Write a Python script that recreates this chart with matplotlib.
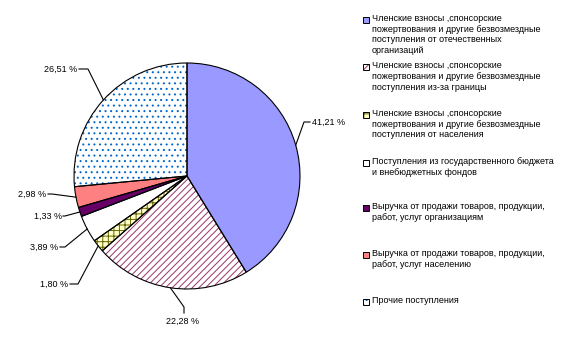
import matplotlib.pyplot as plt
import numpy as np
from matplotlib.patches import Rectangle

plt.rcParams['font.family'] = ['Liberation Sans', 'DejaVu Sans']
plt.rcParams['hatch.linewidth'] = 0.7

shares = [41.21, 22.28, 1.80, 3.89, 1.33, 2.98, 26.51]
pct_labels = ['41,21 %', '22,28 %', '1,80 %', '3,89 %', '1,33 %', '2,98 %', '26,51 %']
categories = [
    'Членские взносы ,спонсорские\nпожертвования и другие безвозмездные\nпоступления от отечественных\nорганизаций',
    'Членские взносы ,спонсорские\nпожертвования и другие безвозмездные\nпоступления из-за границы',
    'Членские взносы ,спонсорские\nпожертвования и другие безвозмездные\nпоступления от населения',
    'Поступления из государственного бюджета\nи внебюджетных фондов',
    'Выручка от продажи товаров, продукции,\nработ, услуг организациям',
    'Выручка от продажи товаров, продукции,\nработ, услуг населению',
    'Прочие поступления',
]
face_colors = ['#9999FF', 'white', '#FFFFCC', 'white', '#660066', '#FF8080', 'white']
hatches = [None, '/////', '+++', None, None, None, '...']
hatch_colors = ['#9999FF', '#993366', '#666600', 'white', '#660066', '#FF8080', '#0066CC']

# label placement in pixels (text anchor, elbow of leader line)
label_px = [(312, 122), (183, 321), (68, 284), (58, 247), (62, 216), (46, 194), (77, 69)]
label_ha = ['left', 'center', 'right', 'right', 'right', 'right', 'right']
elbow_px = [(304, 122), (184, 307), (78, 284), (65, 247), (65, 216), (52, 194), (88, 69)]
start_px = [(310, 122), (184, 313), (70, 284), (60, 247), (63, 216), (48, 194), (79, 69)]

W, H = 565, 352
cx, cy, R = 187, 176, 113

fig = plt.figure(figsize=(W / 100, H / 100), dpi=100)
ax = fig.add_axes([(cx - R) / W, (H - cy - R) / H, 2 * R / W, 2 * R / H])

wedges, _ = ax.pie(shares, startangle=90, counterclock=False, colors=face_colors,
                   radius=1, wedgeprops=dict(linewidth=0))
for w, h, hc in zip(wedges, hatches, hatch_colors):
    if h:
        w.set_hatch(h)
        w.set_edgecolor(hc)
ax.pie(shares, startangle=90, counterclock=False, radius=1,
       wedgeprops=dict(fill=False, edgecolor='black', linewidth=0.8))
ax.set_xlim(-1, 1)
ax.set_ylim(-1, 1)
ax.axis('off')


def to_data(p):
    return ((p[0] - cx) / R, (cy - p[1]) / R)


for w, lab, lp, ha, el, st in zip(wedges, pct_labels, label_px, label_ha, elbow_px, start_px):
    th = np.deg2rad((w.theta1 + w.theta2) / 2)
    edge = (np.cos(th), np.sin(th))
    pts = [to_data(st), to_data(el), edge]
    ax.plot([p[0] for p in pts], [p[1] for p in pts], color='black', lw=0.8, clip_on=False)
    tx, ty = to_data(lp)
    ax.text(tx, ty, lab, ha=ha, va='center', fontsize=6.5, clip_on=False)

# legend
leg_y = [14, 61, 109, 157, 202, 249, 296]
for cat, y, fc, h, hc in zip(categories, leg_y, face_colors, hatches, hatch_colors):
    box = (363 / W, 1 - (y + 9) / H)
    bg = Rectangle(box, 6 / W, 6 / H, transform=fig.transFigure,
                   facecolor=fc, edgecolor=hc, hatch=h, linewidth=0)
    fig.patches.append(bg)
    r = Rectangle(box, 6 / W, 6 / H, transform=fig.transFigure,
                  fill=False, edgecolor='black', linewidth=0.7)
    fig.patches.append(r)
    fig.text(372 / W, 1 - y / H, cat, ha='left', va='top', fontsize=6.5, linespacing=1.25)

fig.savefig('out.png', dpi=100)
